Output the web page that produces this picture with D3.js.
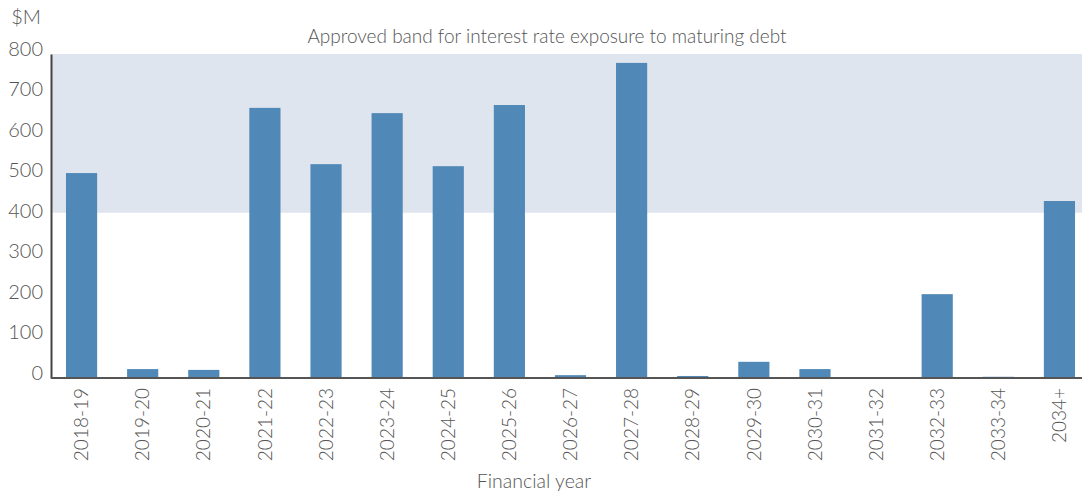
<!DOCTYPE html>
<html>
<head>
<meta charset="utf-8">
<script src="https://cdn.jsdelivr.net/npm/d3@7"></script>
<style>
  body { margin: 0; background: #fff; }
  svg { display: block; font-family: Lato, "Open Sans", sans-serif; font-weight: 300; }
  text { fill: #555; }
</style>
</head>
<body>
<script>
const w = 1082;
const h = 491;

const years = ['2018-19', '2019-20', '2020-21', '2021-22', '2022-23', '2023-24', '2024-25', '2025-26',
  '2026-27', '2027-28', '2028-29', '2029-30', '2030-31', '2031-32', '2032-33', '2033-34', '2034+'];
const maturing = [506, 22, 20, 667, 528, 654, 523, 674, 7, 778, 5, 40, 22, 0, 207, 3, 437];
const yTicks = [0, 100, 200, 300, 400, 500, 600, 700, 800];
const band = [408, 800]; // approved band

let svg = d3.select('body')
  .append('svg')
  .attr('width', w)
  .attr('height', h);

let xScale = d3.scaleBand()
  .domain(years)
  .range([51, 1090])
  .paddingInner(0.49)
  .paddingOuter(0.245);

let yScale = d3.scaleLinear()
  .domain([0, 800])
  .range([378, 54]);

// shaded band
svg.append('rect')
  .attr('x', 51)
  .attr('y', yScale(band[1]))
  .attr('width', w - 51)
  .attr('height', yScale(band[0]) - yScale(band[1]))
  .attr('fill', '#dfe5ef');

svg.selectAll('rect.bar')
  .data(maturing)
  .enter()
  .append('rect')
  .attr('class', 'bar')
  .attr('x', (d, i) => xScale(years[i]))
  .attr('y', d => yScale(d))
  .attr('width', xScale.bandwidth())
  .attr('height', d => yScale(0) - yScale(d))
  .attr('fill', '#5088b7');

// y axis
let yAxis = d3.axisLeft(yScale).tickValues(yTicks).tickSize(0).tickPadding(8);
let gy = svg.append('g')
  .attr('transform', 'translate(51,0)')
  .call(yAxis);
gy.select('.domain').attr('stroke', '#444').attr('stroke-width', 2);
gy.selectAll('text')
  .attr('font-size', 20)
  .attr('font-family', 'Lato')
  .attr('fill', '#555')
  .attr('dy', '0.05em');

// x axis
let xAxis = d3.axisBottom(xScale).tickSize(0).tickPadding(10);
let gx = svg.append('g')
  .attr('transform', 'translate(0,378)')
  .call(xAxis);
gx.select('.domain').attr('stroke', '#555').attr('stroke-width', 2).attr('d', 'M51,0H' + w);
gx.selectAll('text')
  .attr('font-size', 19)
  .attr('font-family', 'Lato')
  .attr('fill', '#555')
  .attr('text-anchor', 'end')
  .attr('transform', 'rotate(-90)')
  .attr('x', -10)
  .attr('y', 0)
  .attr('dy', '0.35em');

svg.append('text')
  .attr('x', 547)
  .attr('y', 43)
  .attr('text-anchor', 'middle')
  .attr('font-size', 19)
  .text('Approved band for interest rate exposure to maturing debt');

svg.append('text')
  .attr('x', 41)
  .attr('y', 24)
  .attr('text-anchor', 'end')
  .attr('font-size', 20)
  .text('$M');

svg.append('text')
  .attr('x', 534)
  .attr('y', 488)
  .attr('text-anchor', 'middle')
  .attr('font-size', 19.5)
  .text('Financial year');
</script>
</body>
</html>
